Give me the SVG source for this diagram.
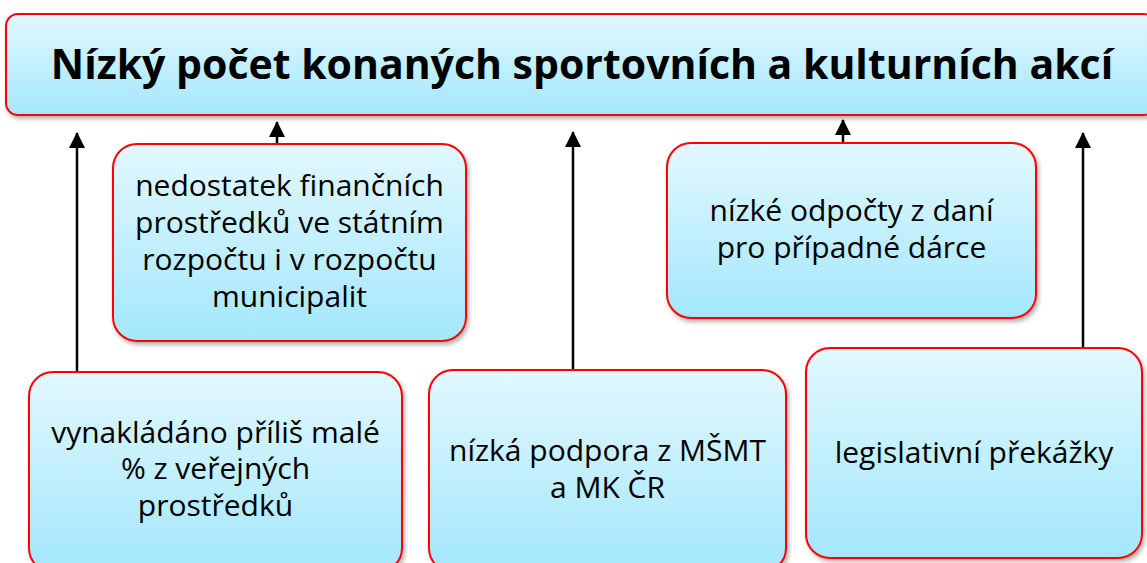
<svg xmlns="http://www.w3.org/2000/svg" width="1147" height="563" viewBox="0 0 1147 563">
<style>
.box{fill:url(#g);stroke:#ff0000;stroke-width:2;filter:url(#sh)}
.t{font-family:"Open Sans","Liberation Sans",sans-serif;font-size:30px;fill:#000;text-anchor:middle}
.title{font-family:"Open Sans","Liberation Sans",sans-serif;font-size:41px;font-weight:bold;fill:#000;text-anchor:middle}
.c{stroke:#000;stroke-width:2.5;fill:none;marker-end:url(#ah)}
</style>
<defs>
<linearGradient id="g" x1="0" y1="0" x2="0" y2="1">
<stop offset="0" stop-color="#e2f8fe"/>
<stop offset="1" stop-color="#a3e7fc"/>
</linearGradient>
<filter id="sh" x="-5%" y="-5%" width="110%" height="115%">
<feDropShadow dx="2" dy="3" stdDeviation="2" flood-color="#000" flood-opacity="0.3"/>
</filter>
<marker id="ah" markerUnits="userSpaceOnUse" markerWidth="16" markerHeight="16" viewBox="0 0 16 16" refX="15" refY="8" orient="auto">
<path d="M0,0 L16,8 L0,16 Z" fill="#000"/>
</marker>
</defs>
<g id="connectors">
<line class="c" x1="77" y1="372" x2="77" y2="133"/>
<line class="c" x1="277" y1="144" x2="277" y2="122"/>
<line class="c" x1="573" y1="370" x2="573" y2="132"/>
<line class="c" x1="843" y1="143" x2="843" y2="120"/>
<line class="c" x1="1083" y1="348" x2="1083" y2="133"/>
</g>
<g id="title">
<rect class="box" x="6" y="14" width="1150" height="101" rx="12"/>
<text class="title" x="582" y="79">Nízký počet konaných sportovních a kulturních akcí</text>
</g>
<g id="n1">
<rect class="box" x="113" y="144" width="353" height="197" rx="24"/>
<text class="t" x="289.5" y="196">nedostatek finančních</text>
<text class="t" x="289.5" y="233">prostředků ve státním</text>
<text class="t" x="289.5" y="270">rozpočtu i v rozpočtu</text>
<text class="t" x="289.5" y="307">municipalit</text>
</g>
<g id="n2">
<rect class="box" x="667" y="143" width="369" height="175" rx="24"/>
<text class="t" x="851.5" y="221">nízké odpočty z daní</text>
<text class="t" x="851.5" y="258">pro případné dárce</text>
</g>
<g id="n3">
<rect class="box" x="29" y="372" width="373" height="200" rx="24"/>
<text class="t" x="215.5" y="443">vynakládáno příliš malé</text>
<text class="t" x="215.5" y="479">% z veřejných</text>
<text class="t" x="215.5" y="516">prostředků</text>
</g>
<g id="n4">
<rect class="box" x="429" y="370" width="357" height="202" rx="24"/>
<text class="t" x="607.5" y="461">nízká podpora z MŠMT</text>
<text class="t" x="607.5" y="498">a MK ČR</text>
</g>
<g id="n5">
<rect class="box" x="806" y="348" width="336" height="210" rx="24"/>
<text class="t" x="974" y="463">legislativní překážky</text>
</g>
</svg>
